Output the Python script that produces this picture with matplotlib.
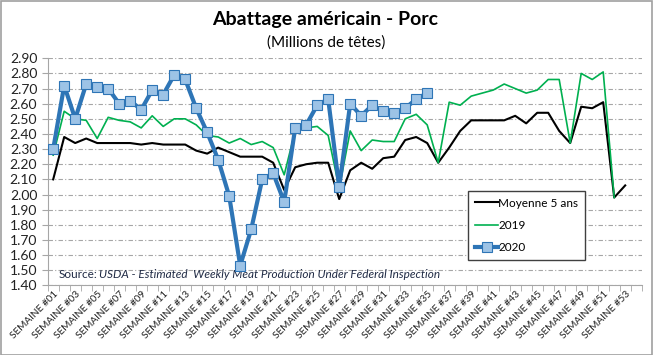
import matplotlib
matplotlib.use("Agg")
import matplotlib.pyplot as plt
from matplotlib.patches import Rectangle

weeks = list(range(1, 54))
tick_labels = [f"SEMAINE #{w:02d}" for w in weeks]

moyenne_5ans = [2.10, 2.38, 2.34, 2.37, 2.34, 2.34, 2.34, 2.34, 2.33, 2.34,
                2.33, 2.33, 2.33, 2.29, 2.27, 2.31, 2.28, 2.25, 2.25, 2.25,
                2.21, 2.03, 2.18, 2.20, 2.21, 2.21, 1.97, 2.16, 2.21, 2.17,
                2.24, 2.25, 2.36, 2.38, 2.34, 2.21, 2.31, 2.42, 2.49, 2.49,
                2.49, 2.49, 2.52, 2.47, 2.54, 2.54, 2.42, 2.34, 2.58, 2.57,
                2.61, 1.98, 2.06]

y2019 = [2.26, 2.55, 2.50, 2.49, 2.37, 2.51, 2.49, 2.48, 2.44, 2.52,
         2.45, 2.50, 2.50, 2.46, 2.39, 2.38, 2.34, 2.37, 2.33, 2.35,
         2.31, 2.13, 2.42, 2.44, 2.45, 2.39, 2.04, 2.42, 2.29, 2.36,
         2.35, 2.35, 2.50, 2.53, 2.46, 2.21, 2.61, 2.59, 2.65, 2.67,
         2.69, 2.73, 2.70, 2.67, 2.69, 2.76, 2.76, 2.34, 2.80, 2.76,
         2.81, 1.98]

y2020 = [2.30, 2.72, 2.50, 2.73, 2.71, 2.70, 2.60, 2.62, 2.56, 2.69,
         2.66, 2.79, 2.76, 2.57, 2.41, 2.23, 1.99, 1.53, 1.77, 2.10,
         2.14, 1.95, 2.44, 2.46, 2.59, 2.63, 2.05, 2.60, 2.52, 2.59,
         2.55, 2.54, 2.57, 2.63, 2.67]

yticks = [1.40 + 0.10 * i for i in range(16)]

plt.rcParams['font.family'] = ['Lato', 'DejaVu Sans']

W, H = 653, 355
fig = plt.figure(figsize=(W / 100, H / 100), dpi=100)
ax = fig.add_axes([47.7 / W, 1 - 285.3 / H, (641.7 - 47.7) / W, (285.3 - 58.3) / H])

ax.plot(weeks[:len(moyenne_5ans)], moyenne_5ans, color='black', lw=1.5, label='Moyenne 5 ans', zorder=3)
ax.plot(weeks[:len(y2019)], y2019, color='#00B050', lw=1.2, label='2019', zorder=3)
ax.plot(weeks[:len(y2020)], y2020, color='#2E75B6', lw=3, marker='s', markersize=7,
        markerfacecolor='#9DC3E6', markeredgecolor='#2E75B6', markeredgewidth=0.8,
        label='2020', zorder=4)

ax.set_xlim(0.5, 54.5)
ax.set_ylim(1.40, 2.90)
ax.set_yticks(yticks)
ax.set_yticklabels([f"{v:.2f}" for v in yticks], fontsize=10, color='#222222')
ax.yaxis.grid(True, color='#A6A6A6', linestyle=(0, (4, 2, 1, 2)), lw=0.8)
ax.set_axisbelow(True)

ax.set_xticks(weeks[::2])
ax.set_xticklabels(tick_labels[::2], rotation=45, ha='right', rotation_mode='anchor',
                   fontsize=7.2, color='#222222')
ax.set_xticks([w + 0.5 for w in range(0, 55)], minor=True)
ax.tick_params(axis='x', which='major', length=0, pad=3)
ax.tick_params(axis='x', which='minor', length=4, color='#A6A6A6')
ax.tick_params(axis='y', length=4, color='#A6A6A6')

for s in ['top', 'right']:
    ax.spines[s].set_visible(False)
ax.spines['left'].set_color('#A6A6A6')
ax.spines['bottom'].set_color('#A6A6A6')

leg = ax.legend(loc='lower left', bbox_to_anchor=(0.707, 0.111), fontsize=8.5,
                frameon=True, fancybox=False, edgecolor='#404040', labelspacing=0.95,
                handlelength=2.0, handletextpad=0.0, borderpad=0.6, borderaxespad=0,
                framealpha=1)
leg.get_frame().set_linewidth(1.0)

fig.text(325 / W, 1 - 20 / H, "Abattage américain - Porc", ha='center', va='center',
         fontsize=14, fontweight='bold', color='black')
fig.text(326 / W, 1 - 43 / H, "(Millions de têtes)", ha='center', va='center',
         fontsize=11, color='black')

ax.text(0.018, 0.046, "Source:", transform=ax.transAxes, fontsize=8.5, color='#1F2A44',
        va='center', ha='left')
ax.text(0.087, 0.046, "USDA - Estimated  Weekly Meat Production Under Federal Inspection",
        transform=ax.transAxes, fontsize=8.5, style='italic', color='#1F2A44',
        va='center', ha='left')

fig.patches.append(Rectangle((0.5 / W, 0.5 / H), 1 - 1.5 / W, 1 - 1.5 / H,
                             transform=fig.transFigure, fill=False,
                             edgecolor='#A0A0A0', lw=1.2))

fig.savefig('out.png', dpi=100)
